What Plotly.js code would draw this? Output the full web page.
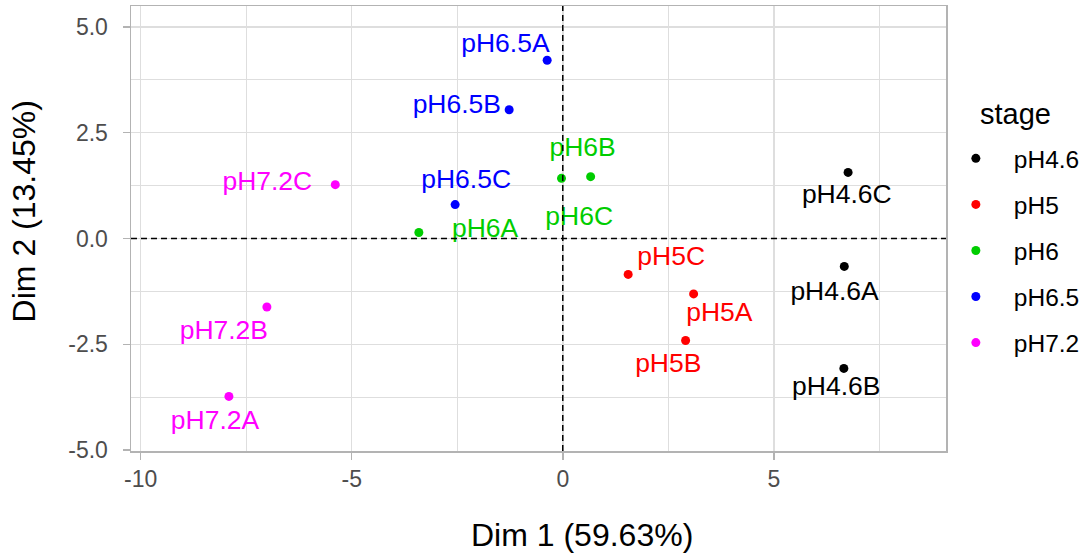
<!DOCTYPE html>
<html>
<head>
<meta charset="utf-8">
<script src="https://cdn.plot.ly/plotly-3.0.1.min.js"></script>
<style>html,body{margin:0;padding:0;background:#fff;}#chart{width:1085px;height:558px;}</style>
</head>
<body>
<div id="chart"></div>
<script>
// ---- data ----
const stages = ['pH4.6', 'pH5', 'pH6', 'pH6.5', 'pH7.2'];
const stageColors = ['#000000', '#FF0000', '#00CD00', '#0000FF', '#FF00FF'];
const sampleNames = [
  ['pH4.6A', 'pH4.6B', 'pH4.6C'],
  ['pH5A', 'pH5B', 'pH5C'],
  ['pH6A', 'pH6B', 'pH6C'],
  ['pH6.5A', 'pH6.5B', 'pH6.5C'],
  ['pH7.2A', 'pH7.2B', 'pH7.2C']
];
const dim1 = [
  [6.67, 6.66, 6.76],
  [3.10, 2.91, 1.55],
  [-3.41, 0.66, -0.03],
  [-0.37, -1.27, -2.55],
  [-7.91, -7.01, -5.39]
];
const dim2 = [
  [-0.66, -3.07, 1.56],
  [-1.31, -2.41, -0.85],
  [0.14, 1.46, 1.42],
  [4.21, 3.04, 0.80],
  [-3.73, -1.62, 1.27]
];
// repelled label positions (ggrepel-style), in data units
const labelDim1 = [
  [6.44, 6.48, 6.73],
  [3.71, 2.50, 2.57],
  [-1.84, 0.47, 0.39],
  [-1.36, -2.51, -2.29],
  [-8.24, -8.03, -7.00]
];
const labelDim2 = [
  [-1.29, -3.53, 0.99],
  [-1.80, -3.00, -0.46],
  [0.20, 2.11, 0.48],
  [4.57, 3.11, 1.34],
  [-4.35, -2.23, 1.31]
];
const xTicks = [-10, -5, 0, 5];
const xTickText = ['-10', '-5', '0', '5'];
const yTicks = [-5, -2.5, 0, 2.5, 5];
const yTickText = ['-5.0', '-2.5', '0.0', '2.5', '5.0'];
const xTitle = 'Dim 1 (59.63%)';
const yTitle = 'Dim 2 (13.45%)';
const legendTitle = 'stage';

const FONT = 'Liberation Sans, Arial, sans-serif';
const traces = [];
stages.forEach((s, i) => {
  traces.push({
    type: 'scatter', mode: 'markers', name: s,
    x: dim1[i], y: dim2[i], text: sampleNames[i],
    legendgroup: s,
    marker: {color: stageColors[i], size: 9},
    hoverinfo: 'text+x+y'
  });
});
stages.forEach((s, i) => {
  traces.push({
    type: 'scatter', mode: 'text', showlegend: false,
    x: labelDim1[i], y: labelDim2[i], text: sampleNames[i],
    textposition: 'middle center',
    textfont: {family: FONT, size: 26.5, color: stageColors[i]},
    hoverinfo: 'skip', legendgroup: s
  });
});

const gridCol = '#dedede';
const layout = {
  width: 1085, height: 558,
  paper_bgcolor: '#ffffff', plot_bgcolor: '#ffffff',
  margin: {l: 131, r: 139, t: 6, b: 107, autoexpand: false},
  font: {family: FONT},
  xaxis: {
    range: [-10.23, 9.08], tickvals: xTicks, ticktext: xTickText,
    showgrid: true, gridcolor: gridCol, gridwidth: 1.5,
    minor: {tickvals: [-7.5, -2.5, 2.5, 7.5], showgrid: true, gridcolor: gridCol, gridwidth: 1.2, ticks: ''},
    zeroline: false, showline: true, mirror: true, linecolor: '#b3b3b3', linewidth: 1.5,
    ticks: 'outside', ticklen: 7, tickcolor: '#b3b3b3', tickwidth: 1.5,
    tickfont: {family: FONT, size: 23, color: '#4d4d4d'}
  },
  yaxis: {
    range: [-5.02, 5.49], tickvals: yTicks, ticktext: yTickText,
    showgrid: true, gridcolor: gridCol, gridwidth: 1.5,
    minor: {tickvals: [-3.75, -1.25, 1.25, 3.75], showgrid: true, gridcolor: gridCol, gridwidth: 1.2, ticks: ''},
    zeroline: false, showline: true, mirror: true, linecolor: '#b3b3b3', linewidth: 1.5,
    ticks: 'outside', ticklen: 7, tickcolor: '#b3b3b3', tickwidth: 1.5, ticklabelstandoff: 10,
    tickfont: {family: FONT, size: 23, color: '#4d4d4d'}
  },
  shapes: [
    {type: 'line', xref: 'x', yref: 'paper', x0: 0, x1: 0, y0: 0, y1: 1, layer: 'above',
     line: {color: '#000', width: 1.5, dash: '6px,4px'}},
    {type: 'line', xref: 'paper', yref: 'y', x0: 0, x1: 1, y0: 0, y1: 0, layer: 'above',
     line: {color: '#000', width: 1.5, dash: '6px,4px'}}
  ],
  showlegend: true,
  legend: {
    x: 0.990, xanchor: 'left', y: 0.708, yanchor: 'top',
    font: {family: FONT, size: 24.5, color: '#000'},
    tracegroupgap: 11.2, itemwidth: 66, bgcolor: 'rgba(0,0,0,0)'
  },
  annotations: [
    {text: legendTitle, xref: 'paper', yref: 'paper', x: 1.0847, y: 0.757, xanchor: 'center', yanchor: 'middle',
     showarrow: false, font: {family: FONT, size: 29, color: '#000'}},
    {text: xTitle, xref: 'paper', yref: 'paper', x: 0.553, y: -0.189, xanchor: 'center', yanchor: 'middle',
     showarrow: false, font: {family: FONT, size: 32, color: '#000'}},
    {text: yTitle, xref: 'paper', yref: 'paper', x: -0.131, y: 0.539, xanchor: 'center', yanchor: 'middle',
     textangle: -90, showarrow: false, font: {family: FONT, size: 32, color: '#000'}}
  ]
};
Plotly.newPlot('chart', traces, layout, {displayModeBar: false, staticPlot: true});
</script>
</body>
</html>
